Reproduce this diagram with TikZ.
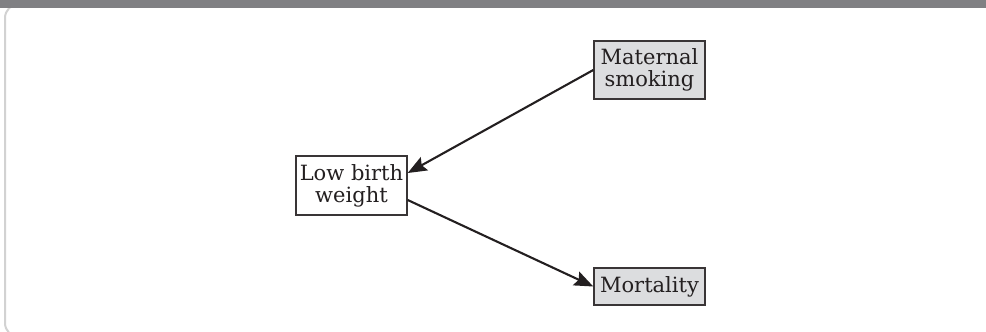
\documentclass[tikz,border=0pt]{standalone}
\usepackage{fontspec}
\setmainfont{DejaVu Serif}
\usetikzlibrary{arrows.meta}

\definecolor{bargray}{HTML}{808083}
\definecolor{framegray}{HTML}{D2D2D2}
\definecolor{boxgray}{HTML}{DCDDDF}
\definecolor{ink}{HTML}{231F20}

\tikzset{
    var/.style={draw=ink!90, line width=1.4pt, text=ink, align=center,
        minimum width=111pt, inner sep=0pt,
        font=\fontsize{21}{22}\selectfont},
    exposure/.style={var, fill=boxgray},
    arr/.style={-{Stealth[length=19pt,width=15pt,inset=3pt]}, line width=2.1pt, draw=ink},
}

\begin{document}
\begin{tikzpicture}[x=1pt,y=-1pt]
    \useasboundingbox (0,0) rectangle (986,332);
    %% frame
    \begin{scope}
        \clip (0,0) rectangle (986,332);
        \draw[framegray, line width=2pt, rounded corners=14pt] (5,4) rectangle (1010,337);
        \fill[bargray] (0,0) rectangle (986,8);
    \end{scope}
    %% variables
    \node[exposure, minimum height=58pt] (smoke) at (649.5,70) {Maternal\\smoking};
    \node[var, minimum height=59pt] (lbw) at (351.5,185.5) {Low birth\\weight};
    \node[exposure, minimum height=37pt] (mort) at (649.5,286.5) {Mortality};
    %% paths
    \draw[arr] (smoke.west) -- ([yshift=12.5pt]lbw.east);
    \draw[arr] ([yshift=-14.5pt]lbw.east) -- (mort.west);
\end{tikzpicture}
\end{document}
